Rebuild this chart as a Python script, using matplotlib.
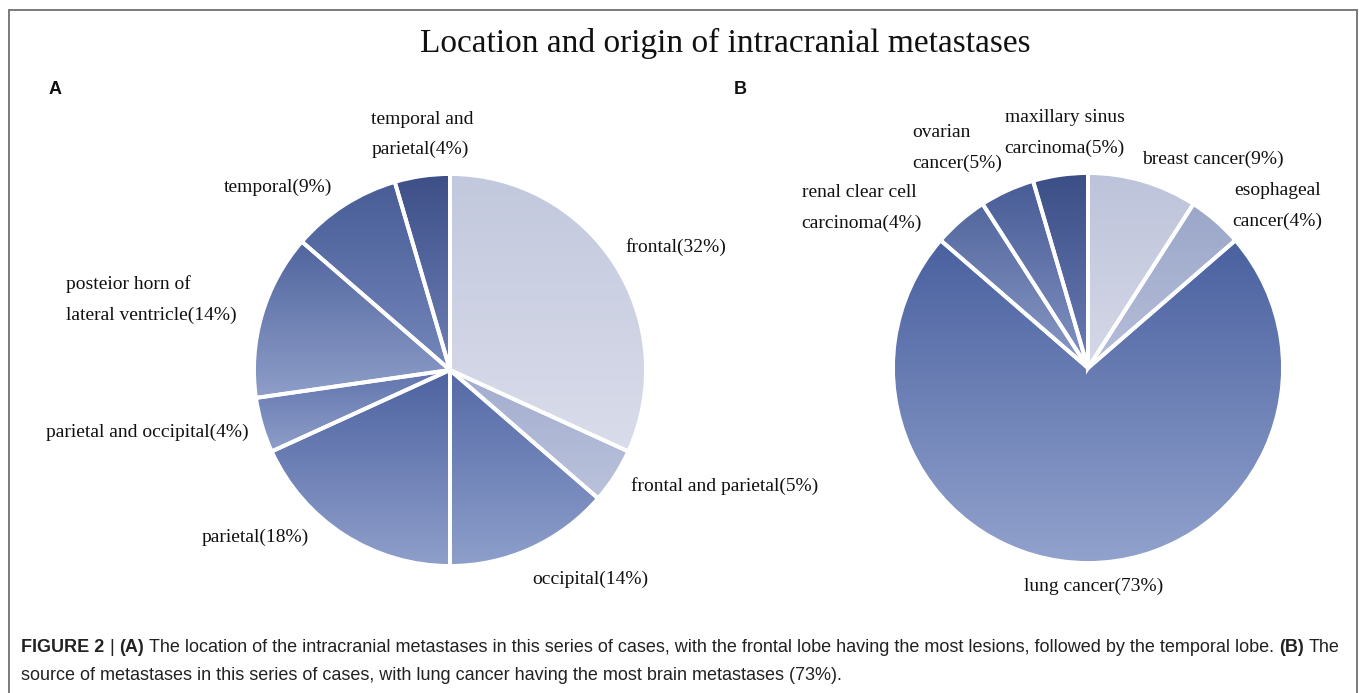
import numpy as np
import matplotlib
matplotlib.use("Agg")
import matplotlib.pyplot as plt
from matplotlib.colors import to_rgb
from matplotlib.patches import Rectangle

# --- DATA ---
TITLE = "Location and origin of intracranial metastases"

# case counts (22 cases); the labels carry the rounded percentages
loc_labels = ["frontal(32%)", "frontal and parietal(5%)", "occipital(14%)", "parietal(18%)",
              "parietal and occipital(4%)", "posteior horn of\nlateral ventricle(14%)",
              "temporal(9%)", "temporal and\nparietal(4%)"]
loc_values = [7, 1, 3, 4, 1, 3, 2, 1]

src_labels = ["breast cancer(9%)", "esophageal\ncancer(4%)", "lung cancer(73%)",
              "renal clear cell\ncarcinoma(4%)", "ovarian\ncancer(5%)",
              "maxillary sinus\ncarcinoma(5%)"]
src_values = [2, 1, 16, 1, 1, 1]

caption_line1 = [("FIGURE 2", True), ("|", False), ("(A)", True),
                 ("The location of the intracranial metastases in this series of cases, with the frontal lobe "
                  "having the most lesions, followed by the temporal lobe.", False),
                 ("(B)", True), ("The", False)]
caption_line2 = [("source of metastases in this series of cases, with lung cancer having the most brain "
                  "metastases (73%).", False)]

# --- STYLE ---
W, H, DPI = 1359, 693, 100

# (top colour, bottom colour) of the vertical gradient in every slice
loc_grads = [("#c2c8dd", "#d9dcea"), ("#a2acce", "#bac2db"), ("#5469a6", "#8e9fcb"),
             ("#4d62a0", "#8f9fcb"), ("#6074ad", "#8f9ec9"), ("#50659e", "#8f9ec9"),
             ("#485c96", "#7487bc"), ("#3e4f88", "#6d80b5")]
src_grads = [("#bdc3da", "#d5d8e7"), ("#9ba7c9", "#b6bed9"), ("#4a61a0", "#92a2cd"),
             ("#53679e", "#8a99c6"), ("#485c96", "#8393c3"), ("#3c4e86", "#6a7cb3")]

# label layout: distance (radius units), angle nudge (deg), ha, multialignment
loc_layout = [(1.10, 2.7, "left", "left"), (1.09, 0.5, "left", "left"), (1.14, -3, "left", "left"),
              (1.11, -7.6, "right", "left"), (1.075, 0.4, "right", "left"),
              (1.15, -2.3, "right", "left"), (1.115, -0.2, "right", "left"),
              (1.22, -1.6, "center", "left")]
src_layout = [(1.115, 1.9, "left", "left"), (1.12, -0.5, "left", "center"),
              (1.11, 1.5, "center", "center"), (1.19, 4.8, "right", "left"),
              (1.22, -3.4, "right", "left"), (1.22, -2.6, "center", "left")]

SERIF = ["Liberation Serif", "DejaVu Serif"]
SANS = ["Liberation Sans", "DejaVu Sans"]


def gradient_image(top, bottom, n=256):
    t = np.linspace(0, 1, n)[:, None, None]
    a = np.array(to_rgb(top))[None, None, :]
    b = np.array(to_rgb(bottom))[None, None, :]
    return a * (1 - t) + b * t


def draw_pie(ax, values, labels, grads, layout, lim):
    wedges, _ = ax.pie(values, startangle=90, counterclock=False, radius=1,
                       wedgeprops=dict(facecolor="none", edgecolor="white", linewidth=2.8))
    for w, (top, bot), lab, (dist, nudge, ha, malign) in zip(wedges, grads, labels, layout):
        w.set_zorder(2)
        th = np.radians(np.linspace(w.theta1, w.theta2, 100))
        xs = np.concatenate([[0], np.cos(th)])
        ys = np.concatenate([[0], np.sin(th)])
        im = ax.imshow(gradient_image(top, bot), extent=[xs.min(), xs.max(), ys.min(), ys.max()],
                       origin="upper", aspect="auto", interpolation="bilinear", zorder=1)
        im.set_clip_path(w)
        mid = np.radians((w.theta1 + w.theta2) / 2 + nudge)
        ax.text(dist * np.cos(mid), dist * np.sin(mid) - 0.01, lab, ha=ha, va="center",
                multialignment=malign, linespacing=2.0, fontsize=14, family=SERIF, color="#111111")
    ax.set_xlim(-lim, lim)
    ax.set_ylim(-lim, lim)
    ax.set_aspect("equal")
    ax.axis("off")


fig = plt.figure(figsize=(W / DPI, H / DPI), dpi=DPI)

# pies: 500 px square axes around each centre
box = 500
axA = fig.add_axes([(450 - box / 2) / W, (H - 370 - box / 2) / H, box / W, box / H])
draw_pie(axA, loc_values, loc_labels, loc_grads, loc_layout, (box / 2) / 196)
axB = fig.add_axes([(1088 - box / 2) / W, (H - 368 - box / 2) / H, box / W, box / H])
draw_pie(axB, src_values, src_labels, src_grads, src_layout, (box / 2) / 195)

# frame
fig.patches.append(Rectangle((9 / W, -0.02), 1348 / W, (H - 10) / H + 0.02, transform=fig.transFigure,
                             fill=False, edgecolor="#7a7a7a", linewidth=1.4))

fig.text(725 / W, 1 - 43 / H, TITLE, ha="center", va="center", fontsize=24, family=SERIF, color="#111111")
fig.text(55 / W, 1 - 90 / H, "A", ha="center", va="center", fontsize=13, fontweight="bold",
         family=SANS, color="#111111")
fig.text(740 / W, 1 - 90 / H, "B", ha="center", va="center", fontsize=13, fontweight="bold",
         family=SANS, color="#111111")

# caption, written run by run so bold and regular parts sit side by side
renderer = fig.canvas.get_renderer()
cap_size = 13
probe1 = fig.text(0, 0, "xx", fontsize=cap_size, family=SANS)
probe2 = fig.text(0, 0, "x x", fontsize=cap_size, family=SANS)
space = probe2.get_window_extent(renderer).width - probe1.get_window_extent(renderer).width
probe1.remove()
probe2.remove()

for runs, y_px in [(caption_line1, 648), (caption_line2, 676)]:
    x = 21
    for txt, bold in runs:
        t = fig.text(x / W, 1 - y_px / H, txt, ha="left", va="center", fontsize=cap_size,
                     family=SANS, fontweight="bold" if bold else "normal", color="#222222")
        x = t.get_window_extent(renderer).x1 + space

fig.savefig("out.png", dpi=DPI)
